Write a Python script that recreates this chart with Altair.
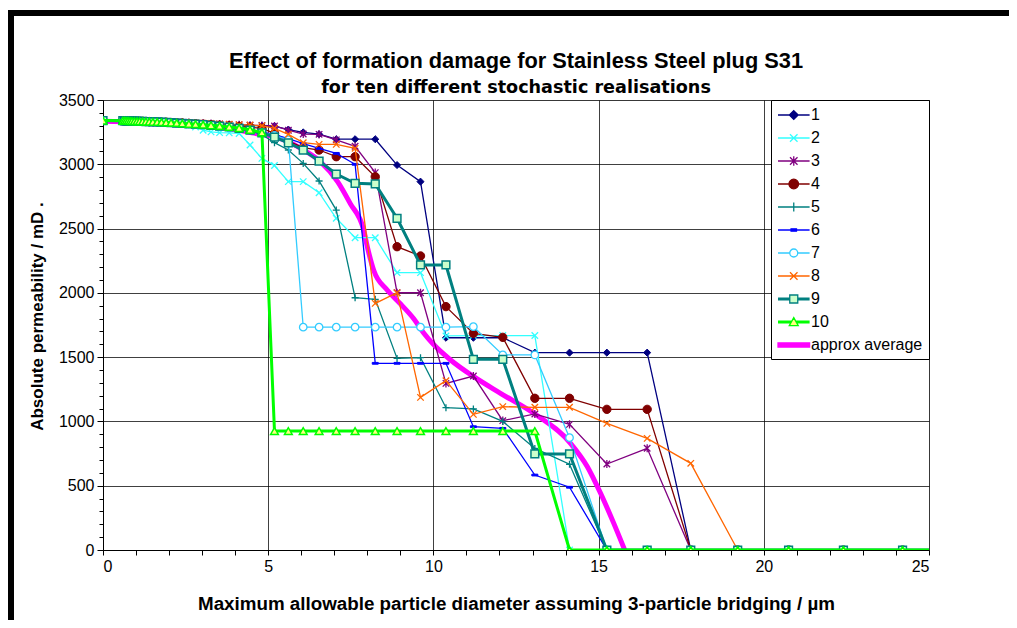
import altair as alt
import pandas as pd

# Particle diameters (µm) at which every realisation was evaluated
X = [0, 0.60, 0.65, 0.70, 0.76, 0.82, 0.88, 0.95, 1.03, 1.11, 1.20, 1.30, 1.40, 1.51,
     1.64, 1.77, 1.91, 2.06, 2.23, 2.40, 2.60, 2.80, 3.03, 3.27, 3.53, 3.82, 4.12, 4.45,
     4.81, 5.19, 5.61, 6.06, 6.54, 7.06, 7.63, 8.24, 8.90, 9.61, 10.38, 11.21, 12.10,
     13.07, 14.12, 15.25, 16.47, 17.79, 19.21, 20.75, 22.41, 24.20, 26.14]

S1 = [3340, 3339, 3339, 3338, 3338, 3337, 3337, 3336, 3336, 3335, 3335, 3334, 3333, 3332, 3331,
      3330, 3329, 3327, 3325, 3323, 3321, 3319, 3317, 3314, 3311, 3308, 3305, 3302, 3300,
      3296, 3270, 3248, 3234, 3195, 3195, 3195, 2994, 2865, 1651, 1651, 1651, 1535, 1535,
      1535, 1535, 0, 0, 0, 0, 0, 0]
S2 = [3340, 3339, 3338, 3338, 3337, 3337, 3336, 3336, 3335, 3334, 3333, 3332, 3331, 3330, 3328,
      3326, 3324, 3322, 3319, 3315, 3305, 3290, 3265, 3252, 3246, 3244, 3240, 3150, 3046,
      2990, 2865, 2865, 2779, 2580, 2429, 2429, 2157, 2157, 1665, 1668, 1668, 1668, 0,
      0, 0, 0, 0, 0, 0, 0, 0]
S3 = [3341, 3340, 3340, 3339, 3339, 3338, 3338, 3337, 3337, 3336, 3336, 3335, 3334, 3333, 3332,
      3331, 3330, 3328, 3326, 3324, 3322, 3320, 3318, 3316, 3313, 3310, 3307, 3304, 3302,
      3298, 3265, 3235, 3233, 3190, 3140, 2935, 2001, 2001, 1296, 1353, 1006, 1058, 977,
      669, 791, 0, 0, 0, 0, 0, 0]
S4 = [3340, 3339, 3338, 3338, 3337, 3337, 3336, 3336, 3335, 3334, 3334, 3333, 3332, 3331, 3330,
      3328, 3327, 3325, 3323, 3321, 3318, 3315, 3312, 3308, 3304, 3299, 3294, 3288, 3280,
      3240, 3180, 3130, 3111, 3059, 3059, 2903, 2359, 2287, 1893, 1685, 1654, 1180, 1180,
      1094, 1094, 0, 0, 0, 0, 0, 0]
S5 = [3340, 3339, 3338, 3338, 3337, 3336, 3336, 3335, 3334, 3334, 3333, 3332, 3331, 3330, 3328,
      3327, 3325, 3323, 3320, 3317, 3314, 3310, 3305, 3300, 3294, 3287, 3278, 3262, 3230,
      3168, 3111, 3007, 2870, 2644, 1962, 1950, 1490, 1496, 1107, 1097, 1000, 790, 667,
      0, 0, 0, 0, 0, 0, 0, 0]
S6 = [3340, 3339, 3338, 3338, 3337, 3337, 3336, 3335, 3335, 3334, 3333, 3332, 3331, 3330, 3329,
      3327, 3326, 3324, 3321, 3318, 3315, 3312, 3308, 3303, 3297, 3290, 3281, 3268, 3250,
      3230, 3200, 3160, 3124, 3085, 3000, 1452, 1452, 1452, 1452, 959, 946, 583, 488,
      0, 0, 0, 0, 0, 0, 0, 0]
S7 = [3340, 3339, 3338, 3338, 3337, 3337, 3336, 3335, 3335, 3334, 3333, 3332, 3331, 3330, 3329,
      3327, 3326, 3324, 3321, 3318, 3315, 3312, 3308, 3303, 3297, 3290, 3281, 3268, 3250,
      3225, 3190, 1733, 1733, 1733, 1733, 1733, 1733, 1733, 1733, 1737, 1517, 1517, 874,
      0, 0, 0, 0, 0, 0, 0, 0]
S8 = [3342, 3341, 3341, 3340, 3340, 3339, 3339, 3338, 3338, 3337, 3337, 3336, 3335, 3334, 3333,
      3332, 3331, 3329, 3327, 3325, 3323, 3321, 3319, 3317, 3314, 3311, 3308, 3305, 3300,
      3280, 3233, 3168, 3155, 3155, 3124, 1918, 2001, 1187, 1317, 1055, 1115, 1110, 1110,
      985, 868, 674, 0, 0, 0, 0, 0]
S9 = [3340, 3339, 3338, 3338, 3337, 3337, 3336, 3335, 3335, 3334, 3333, 3332, 3331, 3330, 3329,
      3327, 3326, 3324, 3321, 3318, 3315, 3312, 3308, 3303, 3297, 3290, 3280, 3265, 3245,
      3212, 3166, 3111, 3025, 2924, 2852, 2847, 2580, 2217, 2217, 1483, 1483, 747, 747,
      0, 0, 0, 0, 0, 0, 0, 0]
S10 = [3340, 3338, 3338, 3337, 3337, 3336, 3336, 3335, 3335, 3334, 3333, 3332, 3331, 3330, 3329,
       3327, 3325, 3323, 3321, 3318, 3315, 3312, 3308, 3303, 3298, 3291, 3282, 3268, 3248,
       925, 925, 925, 925, 925, 925, 925, 925, 925, 925, 925, 925, 925, 0,
       0, 0, 0, 0, 0, 0, 0, 0]

AVG_X = [0, 1, 2, 3, 4, 4.5, 5.2, 6.07, 6.58, 7.1, 7.48, 7.89, 8.0, 8.19, 8.6, 9.0, 9.4,
         9.7, 10.0, 10.52, 11.22, 12.03, 13.04, 14.15, 14.66, 15.06, 15.46, 15.79]
AVG_Y = [3335, 3330, 3318, 3300, 3270, 3245, 3215, 3111, 3020, 2865, 2696, 2489, 2359, 2178,
         2022, 1915, 1800, 1690, 1600, 1478, 1348, 1219, 1063, 830, 648, 441, 207, 0]

NAMES = ["1", "2", "3", "4", "5", "6", "7", "8", "9", "10", "approx average"]
SERIES = [S1, S2, S3, S4, S5, S6, S7, S8, S9, S10]

STROKES = ["#000080", "#33FFFF", "#800080", "#800000", "#008080", "#0000FF",
           "#33CCFF", "#FF6600", "#008080", "#00FF00", "#FF00FF"]
FILLS = ["#000080", "transparent", "transparent", "#800000", "transparent", "#0000FF",
         "#FFFFFF", "transparent", "#CCFFCC", "#FFFF80", "#FF00FF"]
WIDTHS = [1.3, 1.3, 1.3, 1.3, 1.3, 1.3, 1.3, 1.3, 3, 3, 5]

XPATH = "M-1,-1L1,1M-1,1L1,-1"
PLOT_SHAPES = ["diamond", XPATH, XPATH + "M0,-1.25V1.25", "circle", "M-1,0H1M0,-1V1",
               "M-1,-0.3H1V0.3H-1Z", "circle", XPATH, "square", "triangle-up"]
PLOT_SIZES = [50, 42, 42, 70, 49, 36, 56, 42, 60, 60]
MARK_SW = [1, 1.3, 1.3, 1, 1.3, 1, 1.3, 1.3, 1.5, 1.5]

# legend symbols: a line segment with the series marker in its middle (unit = 8 px)
LN = "M-1,0H2.95"
XL = "M0.5,-0.47L1.44,0.47M0.5,0.47L1.44,-0.47"
THICK_L = "M-1,-0.12H{a}M-1,0H{a}M-1,0.12H{a}M{b},-0.12H2.95M{b},0H2.95M{b},0.12H2.95"
LEG_SHAPES = [
    LN + "M0.97,-0.55L1.52,0L0.97,0.55L0.42,0Z",
    LN + XL,
    LN + XL + "M0.97,-0.6V0.6",
    LN + "M0.37,0A0.6,0.6,0,1,0,1.57,0A0.6,0.6,0,1,0,0.37,0Z",
    LN + "M0.97,-0.55V0.55",
    LN + "M0.63,-0.15H1.31V0.15H0.63Z",
    "M-1,0H0.47M1.47,0H2.95M0.47,0A0.5,0.5,0,1,0,1.47,0A0.5,0.5,0,1,0,0.47,0Z",
    LN + XL,
    THICK_L.format(a=0.47, b=1.47) + "M0.47,-0.5H1.47V0.5H0.47Z",
    THICK_L.format(a=0.65, b=1.29) + "M0.97,-0.55L1.53,0.45L0.41,0.45Z",
    "M-1,-0.26H2.95V0.26H-1Z",
]

FONT = "Liberation Sans"
W, H = 826, 450

xscale = alt.Scale(domain=[0, 25], nice=False, zero=False)
yscale = alt.Scale(domain=[0, 3500], nice=False, zero=False)

xaxis = alt.Axis(
    values=list(range(0, 26)),
    labelExpr="datum.value % 5 === 0 ? datum.label : ''",
    labelOverlap=False,
    grid=True,
    gridColor="#000000",
    gridWidth=1,
    gridOpacity={"condition": {"test": "datum.value % 5 === 0", "value": 0.75}, "value": 0},
    tickColor="#000000",
    tickSize=5,
    domainColor="#000000",
    labelFont=FONT, labelFontSize=16, labelColor="#000000", labelPadding=3,
    title="Maximum allowable particle diameter assuming 3-particle bridging / µm",
    titleFont=FONT, titleFontSize=18.8, titleFontWeight="bold", titleColor="#000000",
    titlePadding=20,
)
yaxis = alt.Axis(
    values=list(range(0, 3501, 100)),
    labelExpr="datum.value % 500 === 0 ? datum.label : ''",
    labelOverlap=False,
    grid=True,
    gridColor="#000000",
    gridWidth=1,
    gridOpacity={"condition": {"test": "datum.value % 500 === 0", "value": 0.75}, "value": 0},
    tickColor="#000000",
    tickSize={"condition": {"test": "datum.value % 500 === 0", "value": 6}, "value": 4},
    domainColor="#000000",
    format="d",
    labelFont=FONT, labelFontSize=16, labelColor="#000000", labelPadding=3,
    title="Absolute permeability / mD .",
    titleFont=FONT, titleFontSize=17, titleFontWeight="bold", titleColor="#000000",
    titlePadding=12, titleY=216,
)

layers = []

# approximate average (smooth thick magenta curve)
avg_df = pd.DataFrame({"x": AVG_X, "y": AVG_Y})
layers.append(
    alt.Chart(avg_df).mark_line(color="#FF00FF", strokeWidth=5, interpolate="monotone", clip=True)
    .encode(x=alt.X("x:Q", scale=xscale, axis=xaxis), y=alt.Y("y:Q", scale=yscale, axis=yaxis))
)

for i, vals in enumerate(SERIES):
    df = pd.DataFrame({"x": X, "y": vals})
    enc = dict(x=alt.X("x:Q", scale=xscale, axis=xaxis), y=alt.Y("y:Q", scale=yscale, axis=yaxis))
    layers.append(
        alt.Chart(df).mark_line(color=STROKES[i], strokeWidth=WIDTHS[i], clip=True).encode(**enc)
    )
    layers.append(
        alt.Chart(df).mark_point(
            shape=PLOT_SHAPES[i], size=PLOT_SIZES[i], filled=False,
            stroke=STROKES[i], fill=FILLS[i],
            strokeWidth=MARK_SW[i], opacity=1, clip=True,
        ).encode(**enc)
    )

# legend-only layer (its data is filtered away, the legend comes from the explicit scale domain)
leg_df = pd.DataFrame({"series": NAMES})
legend = alt.Legend(
    title=None, orient="top-right", offset=0, padding=6,
    strokeColor="#000000", fillColor="#FFFFFF",
    symbolSize=256, symbolStrokeWidth=1.3,
    labelFont=FONT, labelFontSize=16, labelColor="#000000",
    labelOffset=16, rowPadding=6.0, labelLimit=300,
)
layers.append(
    alt.Chart(leg_df).transform_filter("false").mark_point(filled=True, size=256, opacity=1)
    .encode(
        stroke=alt.Stroke("series:N", scale=alt.Scale(domain=NAMES, range=STROKES), legend=legend),
        fill=alt.Fill("series:N", scale=alt.Scale(domain=NAMES, range=FILLS), legend=legend),
        shape=alt.Shape("series:N", scale=alt.Scale(domain=NAMES, range=LEG_SHAPES), legend=legend),
    )
)

# black frame of the original figure
frame_df = pd.DataFrame({"a": [0]})
layers.append(
    alt.Chart(frame_df).mark_rule(color="#000000", strokeWidth=6)
    .encode(x=alt.value(-95), x2=alt.value(W + 80), y=alt.value(-87))
)
layers.append(
    alt.Chart(frame_df).mark_rule(color="#000000", strokeWidth=6)
    .encode(x=alt.value(-92), y=alt.value(-90), y2=alt.value(H + 70))
)

# The frame reaches 93 px above the plot, and Vega places the title above everything
# drawn, so a negative offset brings it back down to just above the plot area.
chart = alt.layer(*layers).properties(
    width=W, height=H,
    autosize=alt.AutoSizeParams(type="none"),
    padding={"left": 95, "top": 92, "right": 80, "bottom": 70},
    title=alt.TitleParams(
        text="Effect of formation damage for Stainless Steel plug S31",
        subtitle="for ten different stochastic realisations",
        font=FONT, fontSize=21.8, fontWeight="bold", color="#000000",
        subtitleFont="DejaVu Sans", subtitleFontSize=17.6, subtitleFontWeight="bold",
        subtitleColor="#000000",
        anchor="middle", frame="group", offset=-90, subtitlePadding=7,
    ),
).configure_view(stroke=None).configure(background="#FFFFFF")

chart.save("out.html", embed_options={"renderer": "svg", "actions": False})
